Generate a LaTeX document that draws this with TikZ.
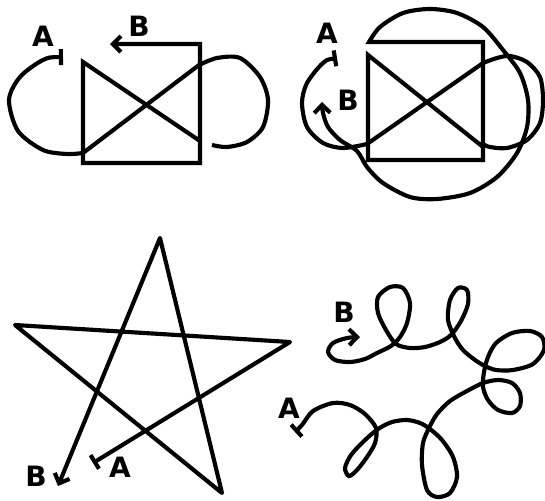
\documentclass[tikz,border=0pt]{standalone}
\usepackage{fontspec}
\setsansfont{DejaVu Sans}
\usetikzlibrary{arrows.meta}

\begin{document}
\begin{tikzpicture}[x=0.75pt, y=-0.75pt,
    pen/.style={line width=3.1pt},
    startA/.style={{Tee Barb[width=12pt,length=2.5pt]}-},
    endB/.style={-{Straight Barb[length=6pt,width=12pt]}},
    fullAB/.style={{Tee Barb[width=12pt,length=2.5pt]}-{Straight Barb[length=6pt,width=12pt]}},
    letter/.style={font=\fontsize{21}{21}\selectfont\sffamily\bfseries, inner sep=0pt}
]
    \useasboundingbox (0,0) rectangle (545,500);

    % square with two side loops
    \draw[pen, startA] plot[smooth] coordinates {(63,57) (43,60) (20,77) (9,100) (18,131) (43,150) (67,154) (83,153)}
        -- plot[smooth] coordinates {(199,65) (217,58) (240,58) (260,77) (268,100) (263,127) (247,142) (227,147) (212,145)};
    \draw[pen, endB] (200,141) -- (83,62) -- (83,163) -- (200,163) -- (200,44) -- (110,44);
    \node[letter] (sqA) at (43,36) {A};
    \node[letter] (sqB) at (139,26) {B};

    % square with loops and big circle
    \draw[pen, startA] plot[smooth] coordinates {(337,58) (323,63) (307,83) (302,103) (307,127) (323,143) (343,148) (367,144)}
        -- plot[smooth] coordinates {(483,63) (497,58) (510,56) (527,62) (540,77) (543,100) (540,123) (527,140) (507,148) (490,147) (483,144)};
    \draw[pen, endB] (483,147) -- (368,55) -- (368,160) -- (483,160) -- (483,42) -- (369,42)
        -- plot[smooth] coordinates {(369,42) (380,27) (403,13) (430,9) (457,13) (483,27) (503,50) (520,73) (528,100) (527,127) (517,153) (497,177) (470,193) (437,199) (410,197) (383,183) (367,167) (357,151) (340,140) (328,127) (323,113) (322,102)};
    \node[letter] (cirA) at (327,33) {A};
    \node[letter] (cirB) at (348,100) {B};

    % star
    \draw[pen, fullAB, line join=round] (93,463) -- (290,342) -- (15,325) -- (222,493) -- (160,238) -- (58,486);
    \node[letter] (starB) at (36,476) {B};
    \node[letter] (starA) at (120,467) {A};

    % looped curve
    \draw[pen, fullAB] plot[smooth] coordinates {(295,432) (302,425) (313,411) (333,403) (350,405) (365,414) (376,428)
        (375,443) (367,457) (357,470) (349,476) (345,468) (351,455) (364,441) (378,429) (392,422) (407,420) (420,423)
        (430,429) (442,440) (453,457) (457,477) (450,493) (437,497) (427,490) (422,465) (423,443) (429,428) (437,414)
        (450,401) (467,391) (483,383) (498,380) (512,383) (520,393) (520,406) (512,413) (498,410) (488,400) (483,387)
        (484,372) (488,357) (496,343) (512,333) (530,331) (542,337) (544,350) (533,364) (513,370) (496,370) (485,366)
        (475,360) (463,350) (455,338) (448,320) (450,300) (458,288) (467,290) (468,304) (461,321) (451,335) (440,342)
        (425,347) (410,348) (396,344) (386,330) (378,313) (378,297) (390,287) (403,288) (410,303) (407,323) (400,337)
        (391,346) (377,353) (365,359) (350,362) (335,360) (328,352) (333,343) (347,338) (360,337)};
    \node[letter] (curA) at (289,408) {A};
    \node[letter] (curB) at (344,312) {B};
\end{tikzpicture}
\end{document}
